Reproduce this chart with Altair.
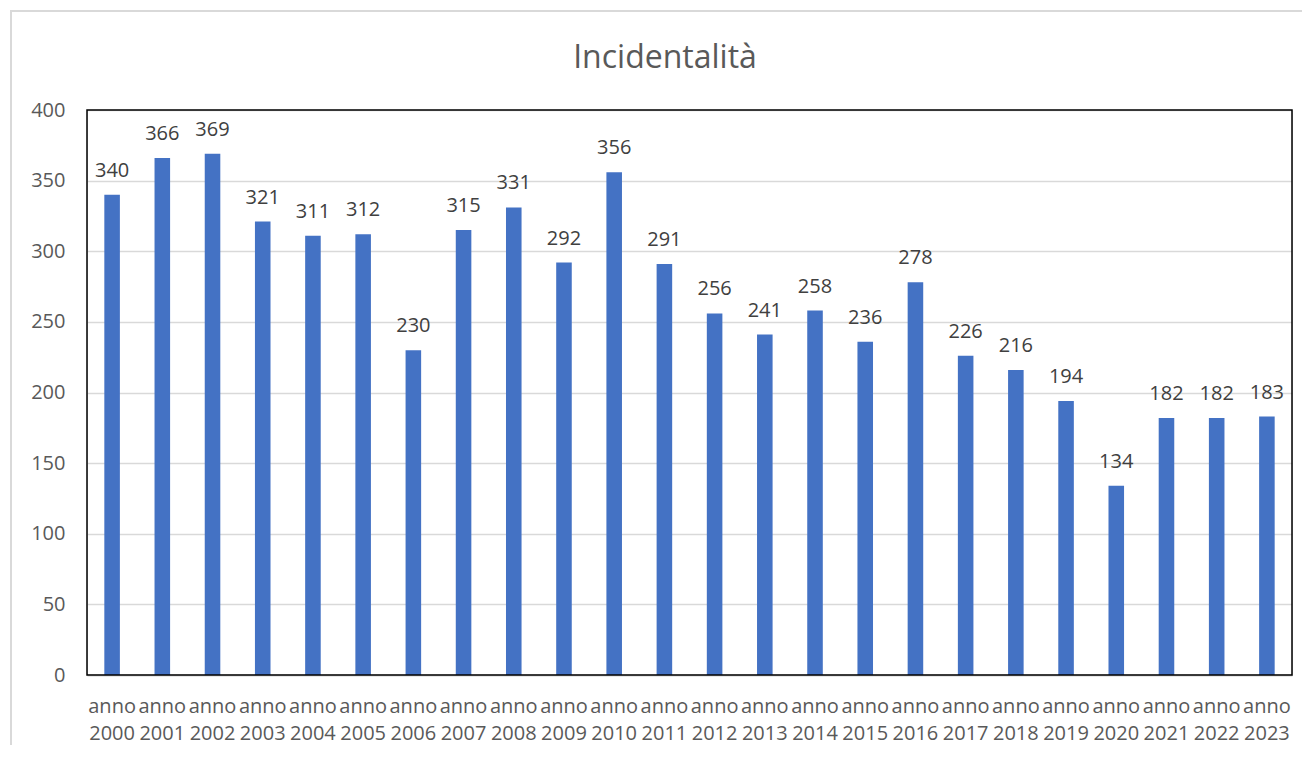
import altair as alt
import pandas as pd

years = [str(y) for y in range(2000, 2024)]
values = [340, 366, 369, 321, 311, 312, 230, 315, 331, 292, 356, 291,
          256, 241, 258, 236, 278, 226, 216, 194, 134, 182, 182, 183]
title_text = ["Incidentalità"]
y_ticks = [0, 50, 100, 150, 200, 250, 300, 350, 400]

df = pd.DataFrame({"anno": years, "valore": values})

FONT = "Open Sans"
x = alt.X("anno:N", sort=years,
          scale=alt.Scale(paddingInner=0.69, paddingOuter=0.345),
          axis=alt.Axis(title=None, labelAngle=0, labelExpr="['anno', datum.value]",
                        labelFontSize=20, labelColor="#595959", labelFont=FONT,
                        labelPadding=21, labelLineHeight=27, ticks=False,
                        domainColor="#D9D9D9", domainWidth=2, labelBaseline="top"))
y = alt.Y("valore:Q", scale=alt.Scale(domain=[0, 400], nice=False),
          axis=alt.Axis(title=None, values=y_ticks, ticks=False, domain=False,
                        labelFontSize=20, labelColor="#595959", labelFont=FONT,
                        labelPadding=22, gridColor="#D9D9D9", gridWidth=1.5))

bars = alt.Chart(df).mark_bar(color="#4472C4").encode(x=x, y=y)
labels = alt.Chart(df).mark_text(dy=-18, baseline="alphabetic", fontSize=20,
                                 font=FONT, color="#404040").encode(
    x=alt.X("anno:N", sort=years), y="valore:Q", text="valore:Q")
one = pd.DataFrame({"k": [0]})
frame = alt.Chart(one).mark_rect(
    fill=None, stroke="#D9D9D9", strokeWidth=2).encode(
    x=alt.value(-76), x2=alt.value(1240), y=alt.value(-99), y2=alt.value(700))
border = alt.Chart(one).mark_rect(
    fill=None, stroke="#000000", strokeWidth=1.5).encode(
    x=alt.value(0), x2=alt.value(1205), y=alt.value(0), y2=alt.value(565))
title = alt.Chart(pd.DataFrame({"t": title_text})).mark_text(
    fontSize=32, font=FONT, color="#595959", align="center",
    baseline="alphabetic").encode(
    x=alt.value(578), y=alt.value(-42), text="t:N")

chart = alt.layer(frame, bars, border, labels, title).properties(
    width=1205, height=565,
    padding={"left": 79, "top": 102, "right": 10, "bottom": 70},
    autosize=alt.AutoSizeParams(type="none"),
).configure_view(stroke=None).configure(background="white")

chart.save("out.html", embed_options={"renderer": "svg", "actions": False})
